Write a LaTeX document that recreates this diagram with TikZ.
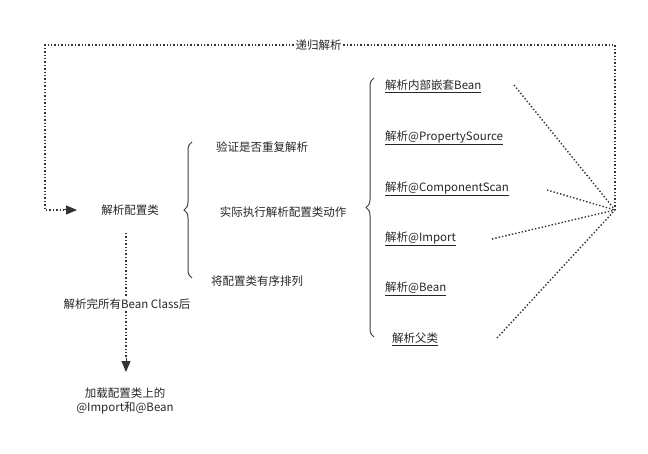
\documentclass[tikz,border=0pt]{standalone}
\usepackage{fontspec}
\setmainfont{Noto Sans CJK SC}
\usetikzlibrary{decorations.pathreplacing,arrows.meta}
\begin{document}
\begin{tikzpicture}[x=1pt,y=-1pt,
  lbl/.style={font=\fontsize{11.5}{14}\selectfont,text=black!85,inner sep=1pt},
  ul/.style={lbl,anchor=west},
  dot/.style={line width=1.4pt,dotted,black!80},
  brc/.style={decorate,decoration={brace,amplitude=8pt},line width=1pt,black!75},
  tip/.style={-{Triangle[length=11pt,width=9pt]}}]
\useasboundingbox (0,0) rectangle (648,454);
\node[lbl] (main) at (130,210) {解析配置类};
\node[lbl] (v1) at (262,147) {验证是否重复解析};
\node[lbl] (v2) at (283,212) {实际执行解析配置类动作};
\node[lbl] (v3) at (257,281) {将配置类有序排列};
\node[ul] (r1) at (384,86) {\underline{解析内部嵌套Bean}};
\node[ul] (r2) at (384,138) {\underline{解析@PropertySource}};
\node[ul] (r3) at (384,189) {\underline{解析@ComponentScan}};
\node[ul] (r4) at (384,239) {\underline{解析@Import}};
\node[ul] (r5) at (384,289) {\underline{解析@Bean}};
\node[ul] (r6) at (391,339) {\underline{解析父类}};
\node[lbl,align=center] (load) at (125,401) {加载配置类上的\\@Import和@Bean};
\coordinate (hub) at (615,210);
\coordinate (b1a) at (192,278); \coordinate (b1b) at (192,142);
\coordinate (b2a) at (374,337); \coordinate (b2b) at (374,78);
\draw[brc] (b1a) -- (b1b);
\draw[brc] (b2a) -- (b2b);
\draw[dot] (514,85) -- (hub);
\draw[dot] (547,190) -- (hub);
\draw[dot] (492,239) -- (hub);
\draw[dot] (497,338) -- (hub);
\coordinate (c1) at (615,45); \coordinate (c2) at (45,45); \coordinate (c3) at (45,210);
\coordinate (a1) at (64,210); \coordinate (a2) at (77,210);
\draw[dot] (hub) -- (c1) -- node[lbl,fill=white,pos=0.52]{递归解析} (c2) -- (c3) -- (a1);
\draw[line width=1pt,tip,black!80] (a1) -- (a2);
\coordinate (d1) at (126,233); \coordinate (d2) at (126,358); \coordinate (d3) at (126,372);
\draw[dot] (d1) -- (d2);
\draw[line width=1pt,tip,black!80] (d2) -- (d3);
\node[lbl,fill=white] (lab) at (127,304) {解析完所有Bean Class后};
\end{tikzpicture}
\end{document}
